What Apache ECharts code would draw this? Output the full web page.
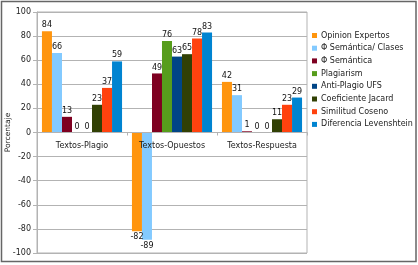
<!DOCTYPE html>
<html>
<head>
<meta charset="utf-8">
<script src="https://cdn.jsdelivr.net/npm/echarts@6/dist/echarts.min.js"></script>
<style>
  html, body { margin: 0; padding: 0; background: #fff; }
  #chart { width: 418px; height: 265px; }
</style>
</head>
<body>
<div id="chart"></div>
<script>
const categories = ["Textos-Plagio", "Textos-Opuestos", "Textos-Respuesta"]
const seriesNames = [
  "Opinion Expertos",
  "Φ Semántica/ Clases",
  "Φ Semántica",
  "Plagiarism",
  "Anti-Plagio UFS",
  "Coeficiente Jacard",
  "Similitud Coseno",
  "Diferencia Levenshtein",
]
const opinionExpertos = [84, -82, 42]
const semanticaClases = [66, -89, 31]
const semantica = [13, 49, 1]
const plagiarism = [0, 76, 0]
const antiPlagio = [0, 63, 0]
const jacard = [23, 65, 11]
const coseno = [37, 78, 23]
const levenshtein = [59, 83, 29]
const colors = ["#ff950e", "#83caff", "#7e0021", "#579d1c", "#004586", "#314004", "#ff420e", "#0084d1"]

const allValues = [opinionExpertos, semanticaClases, semantica, plagiarism, antiPlagio, jacard, coseno, levenshtein]
const font = "DejaVu Sans"

const chart = echarts.init(document.getElementById("chart"))

const option = {
  backgroundColor: "#fff",
  animation: false,
  textStyle: { fontFamily: font },
  graphic: [
    {
      type: "rect",
      shape: { x: 1.5, y: 1.5, width: 414.5, height: 260 },
      style: { fill: "none", stroke: "#666", lineWidth: 1.5 },
      silent: true,
    },
  ],
  legend: {
    orient: "vertical",
    left: 312,
    top: 30,
    padding: 0,
    itemWidth: 5,
    itemHeight: 5,
    itemGap: 1.7,
    icon: "rect",
    textStyle: { fontFamily: font, fontSize: 8, color: "#222", lineHeight: 11, padding: [0, 0, 0, -1] },
    data: seriesNames,
  },
  grid: {
    left: 37,
    right: 111,
    top: 12,
    bottom: 12,
    outerBoundsMode: "none",
    containLabel: false,
    show: true,
    borderColor: "#b3b3b3",
    borderWidth: 1,
  },
  xAxis: {
    type: "category",
    data: categories,
    position: "bottom",
    offset: -120.5,
    z: 5,
    axisLine: { onZero: false, lineStyle: { color: "#b3b3b3" } },
    axisTick: { show: true, length: 3, lineStyle: { color: "#b3b3b3" } },
    axisLabel: { fontFamily: font, fontSize: 8, color: "#222", margin: 9, hideOverlap: false, interval: 0 },
  },
  yAxis: {
    type: "value",
    min: -100,
    max: 100,
    interval: 20,
    name: "Porcentaje",
    nameLocation: "middle",
    nameGap: 25,
    nameMoveOverlap: false,
    nameTextStyle: { fontFamily: font, fontSize: 7.5, color: "#222" },
    axisLine: { show: true, lineStyle: { color: "#b3b3b3" } },
    axisTick: { show: true, length: 4, lineStyle: { color: "#b3b3b3" } },
    axisLabel: { fontFamily: font, fontSize: 8, color: "#222", margin: 6 },
    splitLine: { lineStyle: { color: "#b3b3b3" } },
  },
  series: seriesNames.map((name, i) => ({
    name: name,
    type: "bar",
    barGap: "0%",
    barCategoryGap: "11%",
    itemStyle: { color: colors[i] },
    data: allValues[i].map((v) => ({
      value: v,
      label: { position: v < 0 ? "bottom" : "top" },
    })),
    label: {
      show: true,
      fontFamily: font,
      fontSize: 8,
      color: "#111",
      distance: 2,
    },
  })),
}

chart.setOption(option)
</script>
</body>
</html>
